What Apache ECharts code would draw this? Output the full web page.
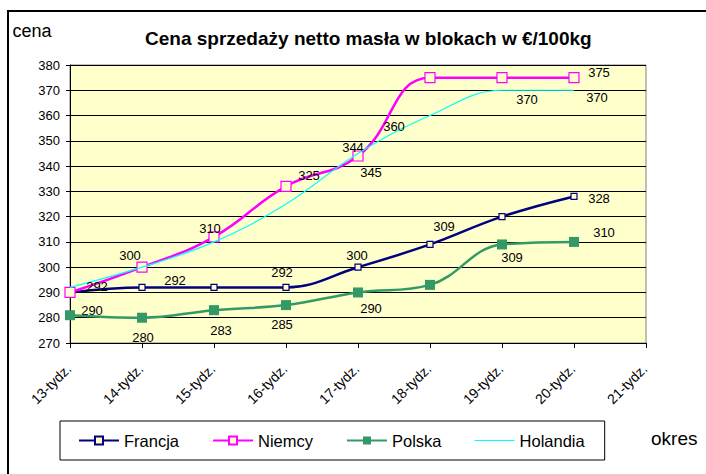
<!DOCTYPE html>
<html>
<head>
<meta charset="utf-8">
<script src="https://cdn.jsdelivr.net/npm/echarts@6/dist/echarts.min.js"></script>
<style>
html,body{margin:0;padding:0;background:#fff;}
#c{width:706px;height:474px;}
</style>
</head>
<body>
<div id="c"></div>
<script>
// ---- data ----
const categories = ['13-tydz.', '14-tydz.', '15-tydz.', '16-tydz.', '17-tydz.', '18-tydz.', '19-tydz.', '20-tydz.', '21-tydz.'];
const francja  = [290, 292, 292, 292, 300, 309, 320, 328];
const niemcy   = [290, 300, 312, 332, 344, 375, 375, 375];
const polska   = [281, 280, 283, 285, 290, 293, 309, 310];
const holandia = [292, 300, 310, 325, 345, 360, 370, 370];
const yTicks = {min: 270, max: 380, step: 10};

// ---- styling: which points carry a value label and where it sits ----
const labelPlacement = {
  Francja:  {0:[22,18], 1:[33,-7], 3:[-4,-15], 4:[-1,-12], 5:[14,-18], 7:[25,2]},
  Niemcy:   {1:[-12,-12], 4:[-5,-8], 7:[25,-5]},
  Polska:   {1:[1,20], 2:[7,20], 3:[-4,19], 4:[13,16], 6:[10,13], 7:[30,-9]},
  Holandia: {0:[27,-1], 2:[-4,-13], 3:[23,-29], 4:[13,19], 5:[-36,11], 6:[25,9], 7:[23,7]}
};
const FONT = "'Liberation Sans', Arial, sans-serif";

function buildData(name, values, extra) {
  const pl = labelPlacement[name];
  return values.map((v, i) => {
    const item = {value: v};
    if (pl[i]) {
      item.label = {show: true, position: 'inside', offset: pl[i]};
    } else {
      item.label = {show: false};
    }
    if (extra) Object.assign(item, extra(i, !!pl[i]));
    return item;
  });
}

const labelStyle = {color: '#000', fontSize: 13, fontFamily: FONT, formatter: p => p.value};
const thinLineIcon = 'path://M0,0h0.1v0.1h-0.1z M0,4.4h40v1.2h-40z M0,9.9h0.1v0.1h-0.1z';

const chart = echarts.init(document.getElementById('c'), null, {renderer: 'svg'});
chart.setOption({
  animation: false,
  backgroundColor: '#fff',
  textStyle: {fontFamily: FONT},
  title: {
    text: 'Cena sprzedaży netto masła w blokach w €/100kg',
    left: 140, top: 24,
    textStyle: {fontSize: 19, fontWeight: 'bold', color: '#000', fontFamily: FONT}
  },
  graphic: [
    {
      type: 'rect', silent: true, z: -1,
      shape: {x: 8, y: 11, width: 760, height: 520},
      style: {fill: 'none', stroke: '#000', lineWidth: 2}
    },
    {
      type: 'text', left: 651, top: 429, silent: true,
      style: {text: 'okres', fontSize: 19, fill: '#000', fontFamily: FONT}
    }
  ],
  legend: {
    left: 60, top: 421,
    padding: [11, 20, 11, 18],
    itemGap: 33, itemWidth: 40, itemHeight: 10,
    borderColor: '#000', borderWidth: 1, backgroundColor: '#fff',
    textStyle: {fontSize: 16.5, color: '#000', fontFamily: FONT},
    data: ['Francja', 'Niemcy', 'Polska', {name: 'Holandia', icon: thinLineIcon}]
  },
  grid: {
    left: 70, right: 60, top: 65, bottom: 131,
    show: true, backgroundColor: '#FFFFCC', borderColor: '#808080', borderWidth: 1
  },
  xAxis: {
    type: 'category', data: categories, boundaryGap: false,
    axisLine: {lineStyle: {color: '#000', width: 1}},
    axisTick: {show: true, interval: 0, length: 5, inside: false, lineStyle: {color: '#000'}},
    axisLabel: {interval: 0, rotate: 45, margin: 22, fontSize: 14, color: '#000', fontFamily: FONT, padding: [0, 2, 0, 0]},
    splitLine: {show: false}
  },
  yAxis: {
    type: 'value', min: yTicks.min, max: yTicks.max, interval: yTicks.step,
    name: 'cena', nameLocation: 'end', nameGap: 25,
    nameTextStyle: {fontSize: 18, color: '#000', fontFamily: FONT, align: 'center', padding: [0, 76, 0, 0]},
    axisLine: {show: true, lineStyle: {color: '#000', width: 1}},
    axisTick: {show: true, length: 4, lineStyle: {color: '#000'}},
    axisLabel: {margin: 10, fontSize: 13, color: '#000', fontFamily: FONT},
    splitLine: {show: true, lineStyle: {color: '#000', width: 1}}
  },
  series: [
    {
      name: 'Francja', type: 'line', smooth: 0.4,
      data: buildData('Francja', francja),
      symbol: 'rect', symbolSize: 6,
      lineStyle: {color: '#000080', width: 2.5},
      itemStyle: {color: '#FFFFCC', borderColor: '#000080', borderWidth: 1.2},
      label: labelStyle, z: 3
    },
    {
      name: 'Niemcy', type: 'line', smooth: 0.45,
      data: buildData('Niemcy', niemcy),
      symbol: 'rect', symbolSize: 10,
      lineStyle: {color: '#FF00FF', width: 2.5},
      itemStyle: {color: '#FFFFCC', borderColor: '#FF00FF', borderWidth: 1.2},
      label: labelStyle, z: 4
    },
    {
      name: 'Polska', type: 'line', smooth: 0.4,
      data: buildData('Polska', polska),
      symbol: 'rect', symbolSize: 10,
      lineStyle: {color: '#339966', width: 2.5},
      itemStyle: {color: '#339966', borderColor: '#339966', borderWidth: 0},
      label: labelStyle, z: 5
    },
    {
      name: 'Holandia', type: 'line', smooth: 0.4,
      data: buildData('Holandia', holandia, (i, has) => has ? {symbol: 'circle', symbolSize: 0} : {}),
      symbol: 'none', showSymbol: true,
      lineStyle: {color: '#00FFFF', width: 1.2},
      itemStyle: {color: '#00FFFF'},
      label: labelStyle, z: 6
    }
  ]
});
</script>
</body>
</html>
